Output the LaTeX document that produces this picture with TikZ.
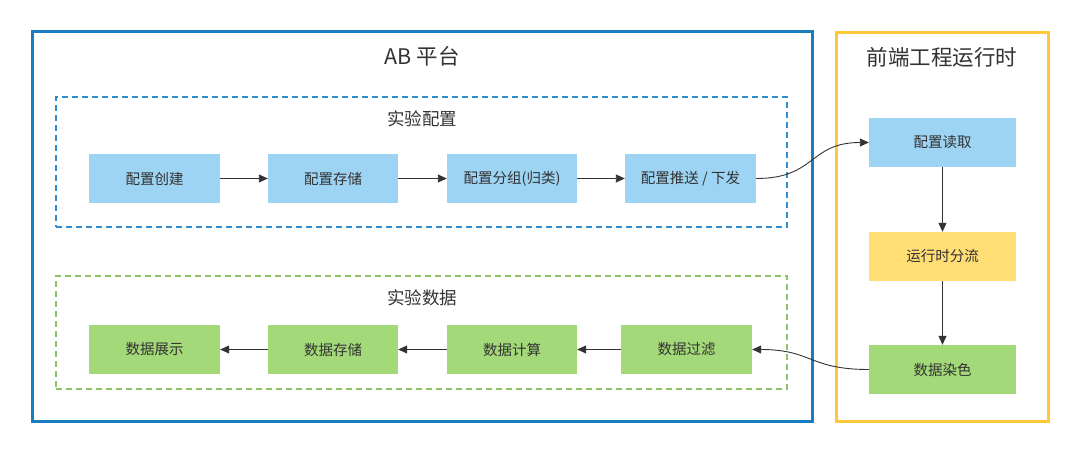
\documentclass[tikz,border=0pt]{standalone}
\usepackage{fontspec}
\setmainfont{Noto Sans CJK SC}
\usetikzlibrary{arrows.meta}
\definecolor{outerblue}{HTML}{1B7CC0}
\definecolor{outeryellow}{HTML}{FFC83A}
\definecolor{dashblue}{HTML}{2D8DCF}
\definecolor{dashgreen}{HTML}{8CC466}
\definecolor{fillblue}{HTML}{9DD3F3}
\definecolor{fillgreen}{HTML}{A3D978}
\definecolor{fillyellow}{HTML}{FFDE76}
\definecolor{txt}{HTML}{333333}
\tikzset{
  box/.style={inner sep=0pt, minimum height=49pt, text=txt, font=\fontsize{14.5}{16}\selectfont},
  bluebox/.style={box, fill=fillblue},
  greenbox/.style={box, fill=fillgreen},
  yellowbox/.style={box, fill=fillyellow},
  title/.style={text=txt, font=\fontsize{21.5}{24}\selectfont},
  subtitle/.style={text=txt, font=\fontsize{17.5}{20}\selectfont},
  outer/.style={draw, line width=3pt, inner sep=0pt},
  group/.style={draw, line width=1.4pt, dash pattern=on 6pt off 4pt, inner sep=0pt},
  conn/.style={draw=txt, line width=0.9pt, -{Triangle[length=9pt,width=8pt]}},
}
\begin{document}
\begin{tikzpicture}[x=1pt,y=-1pt]
\useasboundingbox (0,0) rectangle (1080,454);
% containers
\node[outer, draw=outerblue, minimum width=780pt, minimum height=390pt] (ab) at (422,227) {};
\node[outer, draw=outeryellow, minimum width=212pt, minimum height=389pt] (fe) at (942,227.5) {};
\node[group, draw=dashblue, minimum width=731pt, minimum height=130pt] (cfg) at (421.5,162) {};
\node[group, draw=dashgreen, minimum width=731pt, minimum height=113pt] (dat) at (421.5,332.5) {};
% titles
\node[title] (abt) at (422,56) {AB 平台};
\node[title] (fet) at (942,57) {前端工程运行时};
\node[subtitle] (cfgt) at (422,119) {实验配置};
\node[subtitle] (datt) at (422,298) {实验数据};
% top row
\node[bluebox, minimum width=131pt] (c1) at (154.5,178.5) {配置创建};
\node[bluebox, minimum width=130pt] (c2) at (333,178.5) {配置存储};
\node[bluebox, minimum width=130pt] (c3) at (512,178.5) {配置分组(归类)};
\node[bluebox, minimum width=131pt] (c4) at (690.5,178.5) {配置推送 / 下发};
% bottom row
\node[greenbox, minimum width=131pt] (d1) at (154.5,349.5) {数据展示};
\node[greenbox, minimum width=130pt] (d2) at (333,349.5) {数据存储};
\node[greenbox, minimum width=130pt] (d3) at (512,349.5) {数据计算};
\node[greenbox, minimum width=131pt] (d4) at (686.5,349.5) {数据过滤};
% right column
\node[bluebox, minimum width=147pt] (r1) at (942.5,142.5) {配置读取};
\node[yellowbox, minimum width=147pt] (r2) at (942.5,256.5) {运行时分流};
\node[greenbox, minimum width=147pt] (r3) at (942.5,369.5) {数据染色};
% connectors
\draw[conn] (c1) -- (c2);
\draw[conn] (c2) -- (c3);
\draw[conn] (c3) -- (c4);
\draw[conn] (d4) -- (d3);
\draw[conn] (d3) -- (d2);
\draw[conn] (d2) -- (d1);
\draw[conn] (r1) -- (r2);
\draw[conn] (r2) -- (r3);
\draw[conn] (c4.east) .. controls +(60,0) and +(-60,0) .. (r1.west);
\draw[conn] (r3.west) .. controls +(-60,0) and +(60,0) .. (d4.east);
\end{tikzpicture}
\end{document}
